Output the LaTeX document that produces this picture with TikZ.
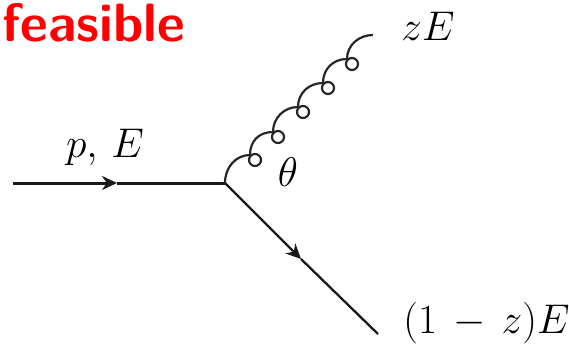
\documentclass[tikz,border=0pt]{standalone}
\usetikzlibrary{arrows.meta, calc}

\begin{document}
\begin{tikzpicture}[
    x=0.5pt, y=-0.5pt,
    mathlabel/.style={font=\fontsize{21}{25}\selectfont, inner sep=0pt},
    titlelabel/.style={font=\fontsize{27}{33}\selectfont\sffamily\bfseries, text=red, inner sep=0pt},
    line/.style={line width=1.5pt, draw=black!90},
    thinline/.style={line width=1.15pt, draw=black!90},
    gluon/.style={line width=1.1pt, draw=black!85},
    tip/.style={-{Stealth[length=7.5pt, width=7pt]}}
]
\useasboundingbox (0,0) rectangle (569,344);

% Title
\node[titlelabel, anchor=base west] (title) at (2,41) {feasible};

% Vertex and line ends
\coordinate (in) at (13,183);
\coordinate (inmid) at (117,183);
\coordinate (vertex) at (225,183);
\coordinate (outmid) at (301,259);
\coordinate (out) at (378,334);

% Gluon turning points
\coordinate (g1) at (250,155);
\coordinate (g2) at (273,132);
\coordinate (g3) at (298,107);
\coordinate (g4) at (323,83);
\coordinate (g5) at (347,59);
\coordinate (gend) at (373,35);

% Labels
\node[mathlabel] (momentum) at (105,147) {$p,\,E$};
\node[mathlabel] (angle) at (288,172) {$\theta$};
\node[mathlabel] (soft) at (428,26) {$zE$};
\node[mathlabel] (hard) at (486.5,323) {$(1\mkern3mu-\mkern3mu z)E$};

% Quark lines
\draw[line, tip] (in) -- (inmid);
\draw[line] (inmid) -- (vertex);
\draw[thinline, tip] (vertex) -- (outmid);
\draw[thinline] (outmid) -- (out);

% Gluon
\draw[gluon] (vertex) .. controls ($(vertex)+(0,-16)$) and ($(g1)+(-14,0)$) .. (g1);
\foreach \a/\b in {g1/g2, g2/g3, g3/g4, g4/g5, g5/gend}{
    \draw[gluon] (\b) .. controls ($(\b)+(-14,0)$) and ($(\a)+(0,-14)$) .. (\a);
    \draw[gluon] ($(\a)+(5,5)$) circle (6);
}
\end{tikzpicture}
\end{document}
